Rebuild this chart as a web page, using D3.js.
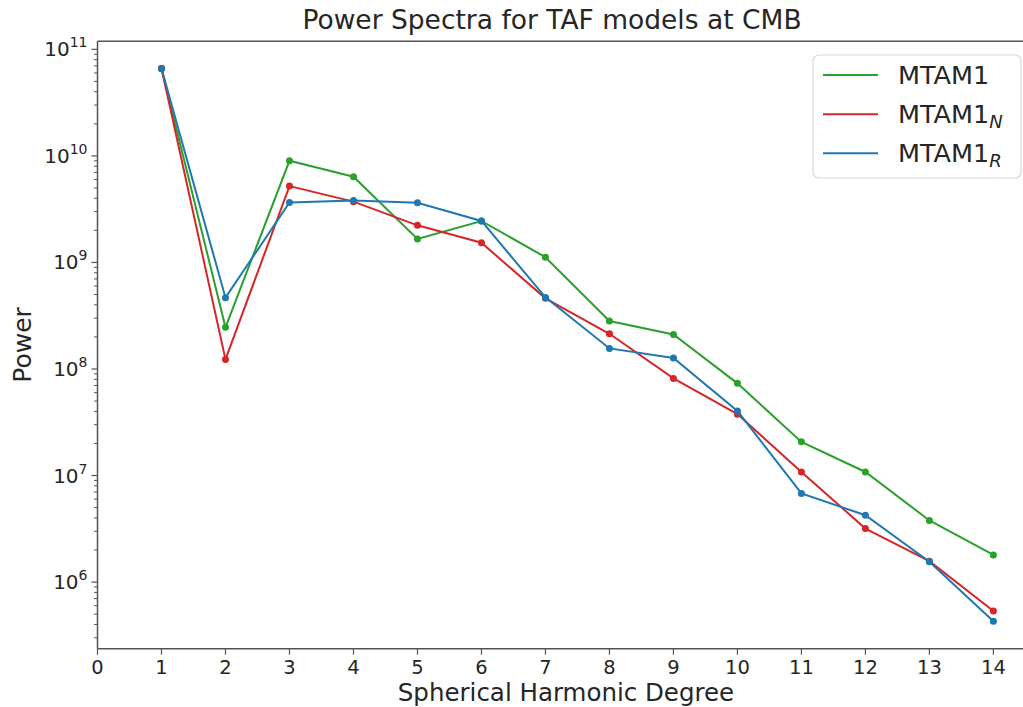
<!DOCTYPE html>
<html><head><meta charset="utf-8">
<script src="https://cdn.jsdelivr.net/npm/d3@7"></script>
<style>
html,body{margin:0;padding:0;background:#fff;}
text{font-family:"DejaVu Sans",sans-serif;fill:#262626;}
</style></head>
<body><svg id="chart" width="1023" height="707"></svg>
<script>
const degrees = [1,2,3,4,5,6,7,8,9,10,11,12,13,14];
const mtam1  = [6.6e10,2.46e8,9.0e9,6.37e9,1.66e9,2.45e9,1.12e9,2.82e8,2.11e8,7.33e7,2.07e7,1.08e7,3.79e6,1.80e6];
const mtam1N = [6.6e10,1.23e8,5.21e9,3.72e9,2.23e9,1.53e9,4.6e8,2.14e8,8.16e7,3.77e7,1.08e7,3.18e6,1.57e6,5.35e5];
const mtam1R = [6.6e10,4.67e8,3.66e9,3.82e9,3.63e9,2.45e9,4.70e8,1.56e8,1.27e8,4.03e7,6.8e6,4.24e6,1.55e6,4.28e5];
const xTicks = [0,1,2,3,4,5,6,7,8,9,10,11,12,13,14];
const yTickExps = [6,7,8,9,10,11];
const seriesNames = ["MTAM1","MTAM1","MTAM1"];
const seriesSubs = ["","N","R"];
const seriesColors = ["#2ca02c","#d62728","#1f77b4"];
const titleText = "Power Spectra for TAF models at CMB";
const xLabel = "Spherical Harmonic Degree";
const yLabel = "Power";

const svg = d3.select("#chart");
const L = 97.5, R = 1035, T = 41.3, B = 648.7;
const x = d3.scaleLinear().domain([0,14.65]).range([L,R]);
const y = d3.scaleLog().domain([2.37e5,1.19e11]).range([B,T]);

// minor ticks
const minor = [];
for (let e = 5; e <= 11; e++) for (let m = 2; m <= 9; m++) {
  const v = m*Math.pow(10,e);
  if (v >= y.domain()[0] && v <= y.domain()[1]) minor.push(v);
}
svg.append("g").selectAll("line").data(minor).join("line")
  .attr("x1",L-3.5).attr("x2",L).attr("y1",d=>y(d)).attr("y2",d=>y(d))
  .attr("stroke","#555").attr("stroke-width",1);

// y major ticks
const yt = svg.append("g");
yTickExps.forEach(e=>{
  const v = Math.pow(10,e);
  yt.append("line").attr("x1",L-6).attr("x2",L).attr("y1",y(v)).attr("y2",y(v))
    .attr("stroke","#555").attr("stroke-width",1.2);
  const t = yt.append("text").attr("x",L-10).attr("y",y(v)+7).attr("text-anchor","end")
    .style("font-size","20px");
  t.append("tspan").text("10");
  t.append("tspan").attr("dy",-9).style("font-size","14px").text(String(e));
});

// x ticks
const xt = svg.append("g");
xTicks.forEach(v=>{
  xt.append("line").attr("x1",x(v)).attr("x2",x(v)).attr("y1",B).attr("y2",B+6)
    .attr("stroke","#555").attr("stroke-width",1.2);
  xt.append("text").attr("x",x(v)).attr("y",B+25.5).attr("text-anchor","middle")
    .style("font-size","19.5px").text(String(v));
});

// spines
svg.append("line").attr("x1",L).attr("x2",L).attr("y1",T).attr("y2",B).attr("stroke","#555").attr("stroke-width",1.5);
svg.append("line").attr("x1",L).attr("x2",R).attr("y1",B).attr("y2",B).attr("stroke","#555").attr("stroke-width",1.5);
svg.append("line").attr("x1",L).attr("x2",R).attr("y1",T).attr("y2",T).attr("stroke","#555").attr("stroke-width",1.5);

// series
const allSeries = [mtam1, mtam1N, mtam1R];
const line = d3.line().x((d,i)=>x(degrees[i])).y(d=>y(d));
allSeries.forEach((s,k)=>{
  const g = svg.append("g");
  g.append("path").datum(s).attr("d",line).attr("fill","none")
    .attr("stroke",seriesColors[k]).attr("stroke-width",2);
  g.selectAll("circle").data(s).join("circle")
    .attr("cx",(d,i)=>x(degrees[i])).attr("cy",d=>y(d)).attr("r",3.5)
    .attr("fill",seriesColors[k]);
});

// legend
const lg = svg.append("g");
lg.append("rect").attr("x",813).attr("y",55).attr("width",208).attr("height",123)
  .attr("rx",6).attr("fill","rgba(255,255,255,0.85)").attr("stroke","#d9d9d9").attr("stroke-width",1.2);
const rowY = [75,114.3,153.3];
seriesNames.forEach((n,k)=>{
  lg.append("line").attr("x1",823).attr("x2",878).attr("y1",rowY[k]).attr("y2",rowY[k])
    .attr("stroke",seriesColors[k]).attr("stroke-width",2);
  const t = lg.append("text").attr("x",898).attr("y",rowY[k]+9).style("font-size","25.5px");
  t.append("tspan").text(n);
  if (seriesSubs[k]) t.append("tspan").attr("dy",5).style("font-size","18px").style("font-style","italic").text(seriesSubs[k]);
});

// title and labels
svg.append("text").attr("x",552).attr("y",29).attr("text-anchor","middle")
  .style("font-size","26.5px").text(titleText);
svg.append("text").attr("x",566).attr("y",701).attr("text-anchor","middle")
  .style("font-size","24.5px").text(xLabel);
svg.append("text").attr("transform","translate(31,345) rotate(-90)").attr("text-anchor","middle")
  .style("font-size","25px").text(yLabel);
</script></body></html>
